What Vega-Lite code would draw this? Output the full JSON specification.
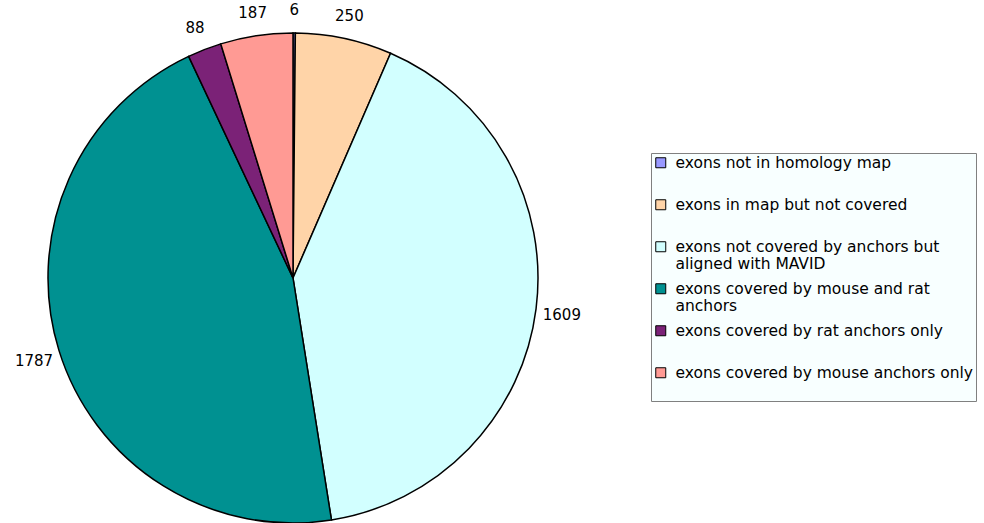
{
  "$schema": "https://vega.github.io/schema/vega-lite/v6.json",
  "autosize": "none",
  "width": 586,
  "height": 488,
  "padding": {"left": 0, "top": 34, "right": 398, "bottom": 1},
  "background": "white",
  "config": {"view": {"stroke": null}, "font": "DejaVu Sans"},
  "data": {
    "values": [
      {"idx": 1, "category": "exons not in homology map", "value": 6},
      {"idx": 2, "category": "exons in map but not covered", "value": 250},
      {"idx": 3, "category": "exons not covered by anchors but|aligned with MAVID", "value": 1609},
      {"idx": 4, "category": "exons covered by mouse and rat|anchors", "value": 1787},
      {"idx": 5, "category": "exons covered by rat anchors only", "value": 88},
      {"idx": 6, "category": "exons covered by mouse anchors only", "value": 187}
    ]
  },
  "encoding": {
    "theta": {"field": "value", "type": "quantitative", "stack": true},
    "order": {"field": "idx", "type": "quantitative"}
  },
  "layer": [
    {
      "mark": {"type": "arc", "outerRadius": 245, "stroke": "black", "strokeWidth": 1.5},
      "encoding": {
        "color": {
          "field": "category",
          "type": "nominal",
          "scale": {
            "domain": [
              "exons not in homology map",
              "exons in map but not covered",
              "exons not covered by anchors but|aligned with MAVID",
              "exons covered by mouse and rat|anchors",
              "exons covered by rat anchors only",
              "exons covered by mouse anchors only"
            ],
            "range": ["#9999FF", "#FFD4A8", "#D2FFFF", "#009191", "#7B2277", "#FF9A94"]
          },
          "legend": {
            "title": null,
            "orient": "none",
            "legendX": 651,
            "legendY": 119,
            "labelExpr": "indexof(datum.label, '|') >= 0 ? split(datum.label, '|') : [datum.label, '\u00a0']",
            "labelFontSize": 15.5,
            "labelFont": "DejaVu Sans",
            "labelColor": "black",
            "labelLimit": 400,
            "labelOffset": 7,
            "labelBaseline": "middle",
            "labelLineHeight": 19,
            "symbolType": "square",
            "symbolSize": 100,
            "symbolStrokeColor": "black",
            "symbolStrokeWidth": 1,
            "symbolOpacity": 1,
            "rowPadding": 8,
            "strokeColor": "#808080",
            "fillColor": "#F8FFFF",
            "padding": 2,
            "cornerRadius": 0
          }
        }
      }
    },
    {
      "mark": {"type": "text", "radius": 271, "dy": 3, "fontSize": 15, "font": "DejaVu Sans", "color": "black", "align": "center", "baseline": "middle"},
      "encoding": {
        "text": {"field": "value", "type": "quantitative"}
      }
    }
  ]
}
